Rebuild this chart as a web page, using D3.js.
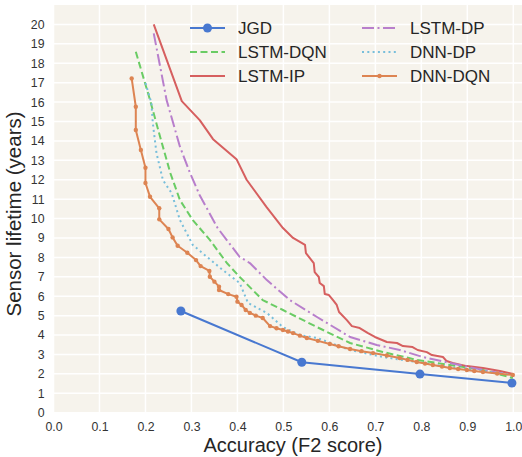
<!DOCTYPE html>
<html><head><meta charset="utf-8">
<script src="https://cdn.jsdelivr.net/npm/d3@7"></script>
<style>body{margin:0;background:#fff}svg{display:block}</style>
</head><body>
<script>
const xTicks = [0,0.1,0.2,0.3,0.4,0.5,0.6,0.7,0.8,0.9,1.0];
const yTicks = d3.range(0,21);
const seriesNames = ["JGD","LSTM-DQN","LSTM-IP","LSTM-DP","DNN-DP","DNN-DQN"];

const jgd = [[0.277,5.24],[0.54,2.6],[0.797,1.99],[0.997,1.53]];
const lstmDqn = [[0.179,18.59],[0.21,16.1],[0.232,14.2],[0.254,12.35],[0.275,10.95],[0.303,9.92],[0.34,8.9],[0.377,7.71],[0.405,6.99],[0.427,6.47],[0.455,5.8],[0.499,5.29],[0.573,4.41],[0.645,3.59],[0.716,3.13],[0.79,2.72],[0.862,2.46],[0.934,2.2],[0.999,1.79]];
const lstmIp = [[0.218,20.0],[0.279,16.05],[0.318,15.07],[0.347,14.09],[0.398,13.06],[0.42,12.0],[0.463,10.6],[0.499,9.51],[0.521,9.0],[0.547,8.64],[0.549,8.22],[0.566,7.71],[0.568,7.24],[0.577,6.99],[0.579,6.68],[0.588,6.52],[0.59,6.11],[0.599,6.06],[0.608,5.8],[0.616,5.55],[0.621,5.19],[0.638,4.77],[0.649,4.46],[0.666,4.36],[0.684,4.1],[0.699,3.9],[0.725,3.64],[0.747,3.59],[0.76,3.43],[0.781,3.38],[0.792,3.23],[0.812,3.12],[0.823,2.97],[0.847,2.87],[0.855,2.66],[0.868,2.56],[0.899,2.4],[0.934,2.3],[0.971,2.15],[0.999,1.99]];
const lstmDp = [[0.218,19.54],[0.246,16.1],[0.275,13.7],[0.297,12.34],[0.318,11.2],[0.357,9.51],[0.405,8.02],[0.427,7.71],[0.464,6.83],[0.514,5.8],[0.573,4.93],[0.645,3.9],[0.703,3.49],[0.753,3.23],[0.803,2.87],[0.862,2.56],[0.934,2.2],[0.999,1.94]];
const dnnDp = [[0.2,16.98],[0.213,15.95],[0.216,14.92],[0.224,13.37],[0.238,11.98],[0.257,11.31],[0.275,9.92],[0.303,8.64],[0.334,8.02],[0.368,7.35],[0.405,6.68],[0.423,5.65],[0.464,5.14],[0.499,4.41],[0.536,4.0],[0.573,3.85],[0.645,3.23],[0.716,2.87],[0.79,2.61],[0.862,2.35],[0.934,2.15],[0.999,1.94]];
const dnnDqn = [[0.17,17.22],[0.179,15.76],[0.179,14.56],[0.19,13.53],[0.2,12.62],[0.2,11.83],[0.21,11.12],[0.23,10.53],[0.23,9.96],[0.25,9.46],[0.259,9.03],[0.27,8.6],[0.291,8.24],[0.31,7.86],[0.32,7.55],[0.339,7.3],[0.34,7.0],[0.35,6.75],[0.36,6.49],[0.36,6.32],[0.38,6.11],[0.398,5.97],[0.4,5.72],[0.409,5.55],[0.418,5.29],[0.427,5.14],[0.44,5.0],[0.455,4.88],[0.471,4.46],[0.485,4.35],[0.499,4.26],[0.51,4.18],[0.521,4.1],[0.536,3.97],[0.551,3.85],[0.575,3.7],[0.601,3.54],[0.62,3.42],[0.645,3.28],[0.67,3.17],[0.695,3.07],[0.725,2.95],[0.753,2.82],[0.77,2.72],[0.79,2.61],[0.808,2.53],[0.825,2.46],[0.845,2.38],[0.862,2.3],[0.88,2.25],[0.899,2.2],[0.915,2.15],[0.934,2.1],[0.965,2.02],[0.999,1.94]];

const W = 522, H = 457;
const mLeft = 53.5, mTop = 5, mBottom = 412.7, mRight = 522;
const x1pos = 513.3;
const x = d3.scaleLinear().domain([0, 1]).range([mLeft, x1pos]);
const y = d3.scaleLinear().domain([0, 21]).range([mBottom, mTop]);

const svg = d3.select("body").append("svg").attr("width", W).attr("height", H)
  .style("font-family", "'Liberation Sans', Arial, sans-serif");

svg.append("rect").attr("x", mLeft).attr("y", mTop).attr("width", mRight - mLeft).attr("height", mBottom - mTop).attr("fill", "#f6f3ec");

const grid = svg.append("g");
grid.selectAll(".gx").data(xTicks).join("line")
  .attr("x1", d => x(d)).attr("x2", d => x(d)).attr("y1", mTop).attr("y2", mBottom)
  .attr("stroke", "#fff").attr("stroke-width", 1.5);
grid.selectAll(".gy").data(yTicks).join("line")
  .attr("x1", mLeft).attr("x2", mRight).attr("y1", d => y(d)).attr("y2", d => y(d))
  .attr("stroke", "#fff").attr("stroke-width", 1.5);

const xAxis = d3.axisBottom(x).tickValues(xTicks).tickFormat(d3.format(".1f")).tickSize(0).tickPadding(10);
const gx = svg.append("g").attr("transform", `translate(0,${mBottom})`).call(xAxis);
gx.select(".domain").remove();
gx.selectAll("text").attr("font-size", 12.3).attr("fill", "#333").style("font-family", "'Liberation Sans', Arial, sans-serif");

const yAxis = d3.axisLeft(y).tickValues(yTicks).tickFormat(d3.format("d")).tickSize(0).tickPadding(9);
const gy = svg.append("g").attr("transform", `translate(${mLeft},0)`).call(yAxis);
gy.select(".domain").remove();
gy.selectAll("text").attr("font-size", 12.3).attr("fill", "#333").style("font-family", "'Liberation Sans', Arial, sans-serif");

svg.append("text").attr("x", 293).attr("y", 452).attr("text-anchor", "middle")
  .attr("font-size", 20).attr("fill", "#262626").text("Accuracy (F2 score)");
svg.append("text").attr("transform", `translate(21,214) rotate(-90)`).attr("text-anchor", "middle")
  .attr("font-size", 20.5).attr("fill", "#262626").text("Sensor lifetime (years)");

const styles = [
  {data: jgd, color: "#4878d0", dash: null, marker: 4.5},
  {data: lstmDqn, color: "#6acc64", dash: "7,3.5", marker: 0},
  {data: lstmIp, color: "#d65f5f", dash: null, marker: 0},
  {data: lstmDp, color: "#b87fcc", dash: "12,3.5,2,3.5", marker: 0},
  {data: dnnDp, color: "#77bedb", dash: "2,3.3", marker: 0},
  {data: dnnDqn, color: "#dd8452", dash: null, marker: 2.2}
];

const line = d3.line().x(d => x(d[0])).y(d => y(d[1]));
const plot = svg.append("g");
styles.forEach(s => {
  plot.append("path").datum(s.data).attr("d", line).attr("fill", "none")
    .attr("stroke", s.color).attr("stroke-width", 2).attr("stroke-dasharray", s.dash)
    .attr("stroke-linejoin", "round");
  if (s.marker) {
    plot.selectAll(null).data(s.data).join("circle")
      .attr("cx", d => x(d[0])).attr("cy", d => y(d[1])).attr("r", s.marker).attr("fill", s.color);
  }
});

// legend
const legPos = [[190, 28], [190, 52], [190, 76], [362, 28], [362, 52], [362, 76]];
const leg = svg.append("g");
styles.forEach((s, i) => {
  const [lx, ly] = legPos[i];
  leg.append("line").attr("x1", lx).attr("x2", lx + 35).attr("y1", ly).attr("y2", ly)
    .attr("stroke", s.color).attr("stroke-width", 2).attr("stroke-dasharray", s.dash);
  if (s.marker) leg.append("circle").attr("cx", lx + 17.5).attr("cy", ly).attr("r", s.marker).attr("fill", s.color);
  leg.append("text").attr("x", lx + 48).attr("y", ly + 6).attr("font-size", 17).attr("fill", "#262626").text(seriesNames[i]);
});
</script>
</body></html>
